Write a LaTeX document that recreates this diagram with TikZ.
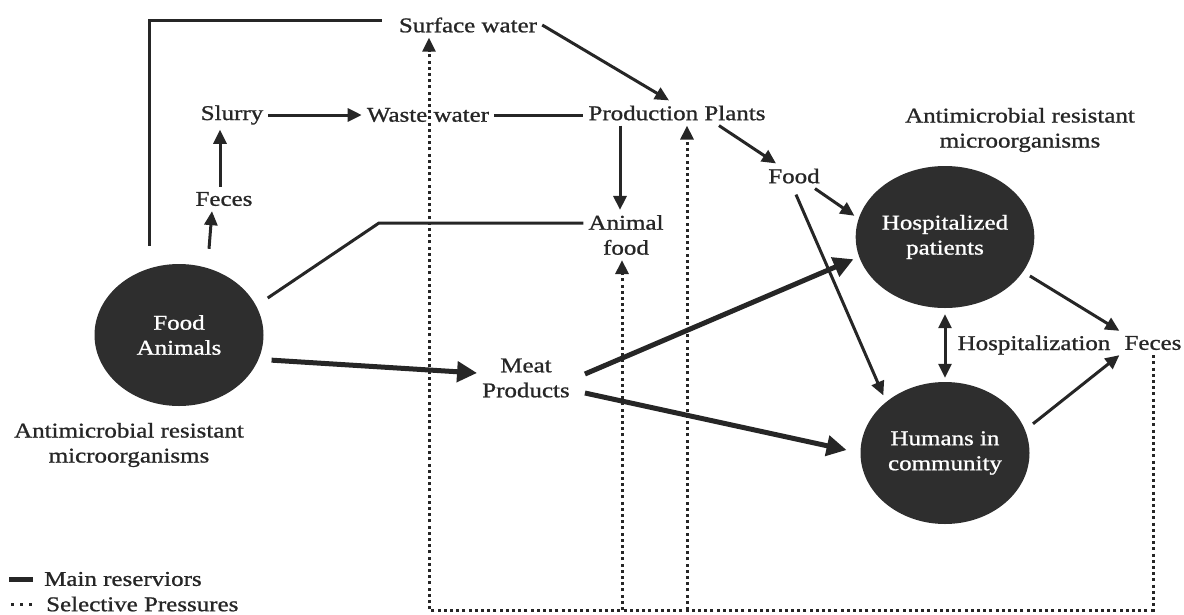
\documentclass[tikz,border=0pt]{standalone}
\usepackage{fontspec}
\setmainfont{Liberation Serif}[FakeStretch=1.19,FakeBold=1]
\usetikzlibrary{arrows.meta,shapes.geometric}

\begin{document}
\begin{tikzpicture}[x=1pt,y=-1pt] % единица = пиксель, ось y вниз
\tikzstyle{txt} = [inner sep=5pt, align=center, text=black!85, font=\fontsize{21}{25}\selectfont] % подписи
\tikzstyle{res} = [ellipse, fill=black!82, minimum width=169pt, minimum height=142pt, inner sep=0pt, align=center, text=white, font=\fontsize{21}{25}\selectfont] % резервуары
\tikzstyle{link} = [line width=3pt, draw=black!85, -{Triangle[length=14pt,width=13pt]}] % обычная стрелка
\tikzstyle{main} = [line width=5pt, draw=black!85, -{Triangle[length=20pt,width=20pt]}] % толстая стрелка
\tikzstyle{selp} = [line width=3pt, draw=black!85, dash pattern=on 3pt off 3.2pt, -{Triangle[length=14pt,width=13pt]}] % пунктир

\useasboundingbox (0,0) rectangle (1184,614);

\node[res] (fa) at (179,335) {Food\\Animals};
\node[res] (hp) at (945,237) {Hospitalized\\patients};
\node[res] (hc) at (945,453) {Humans in\\community};

\node[txt] (sw) at (468,25) {Surface water};
\node[txt] (slurry) at (232,115) {Slurry};
\node[txt] (ww) at (428,115) {Waste water};
\node[txt] (pp) at (677,113) {Production Plants};
\node[txt] (feces1) at (224,199) {Feces};
\node[txt] (af) at (626,235) {Animal\\food};
\node[txt] (food) at (794,176) {Food};
\node[txt] (meat) at (526,378) {Meat\\Products};
\node[txt] (hosp) at (1034,345) {Hospitalization};
\node[txt] (feces2) at (1153,343) {Feces};
\node[txt] (amr1) at (129,445) {Antimicrobial resistant\\microorganisms};
\node[txt] (amr2) at (1020,130) {Antimicrobial resistant\\microorganisms};
\node[txt, anchor=west] (lgmain) at (39,579) {Main reserviors};
\node[txt, anchor=west] (lgsel) at (41,604) {Selective Pressures};

\coordinate (bus) at (0,610); % нижняя пунктирная линия
\coordinate (swin) at ([xshift=-39pt]sw.south);
\coordinate (ppin) at ([xshift=10pt]pp.south);
\coordinate (afin) at ([xshift=-4pt]af.south);
\coordinate (afbend) at (379,223);

% сплошные связи
\draw[link,-] ([xshift=-30pt,yshift=18pt]fa.north) |- ([xshift=-12pt,yshift=5pt]sw.west);
\draw[link] (sw.east) -- ([xshift=-8pt]pp.north);
\draw[link] (slurry.east) -- (ww.west);
\draw[link,-] (ww.east) -- (ww.east -| pp.west);
\draw[link] ([xshift=-4pt]feces1.north) -- ([xshift=-12pt]slurry.south);
\draw[link] ([xshift=30pt,yshift=15pt]fa.north) -- ([xshift=-12pt]feces1.south);
\draw[link,-] ([shift={(4,-37)}]fa.east) -- (afbend) -- (afbend -| af.west);
\draw[link] ([xshift=-57pt]pp.south) -- ([xshift=-6pt]af.north);
\draw[link] ([xshift=42pt]pp.south) -- ([xshift=-18pt]food.north);
\draw[link, shorten >=5pt] ([xshift=21pt]food.south) -- (hp.168);
\draw[link, shorten >=7pt] ([xshift=2pt,yshift=-6pt]food.south) -- (hc.139);
\draw[main, shorten <=13pt] (fa.-17) -- ([yshift=5pt]meat.west);
\draw[main, shorten >=6pt] ([xshift=10pt,yshift=4pt]meat.east) -- (hp.193);
\draw[main, shorten >=14pt] ([xshift=10pt,yshift=-15pt]meat.east) -- (hc.west);
\draw[link, shorten <=8pt] (hp.-24) -- (feces2.north west);
\draw[link, shorten <=10pt] (hc.16) -- (feces2.south west);
\draw[link, {Triangle[length=14pt,width=13pt]}-{Triangle[length=14pt,width=13pt]}, shorten <=6pt, shorten >=4pt] (hp.south) -- (hc.north);

% пунктирные связи
\draw[selp] (feces2.south) |- (bus -| swin) -- (swin);
\draw[selp] (afin |- bus) -- (afin);
\draw[selp] (ppin |- bus) -- (ppin);

% легенда
\draw[line width=5pt, draw=black!85] ([xshift=-30pt]lgmain.west) -- ([xshift=-6pt]lgmain.west);
\draw[selp,-, dash pattern=on 3pt off 6pt] ([xshift=-30pt]lgsel.west) -- ([xshift=-6pt]lgsel.west);
\end{tikzpicture}
\end{document}
